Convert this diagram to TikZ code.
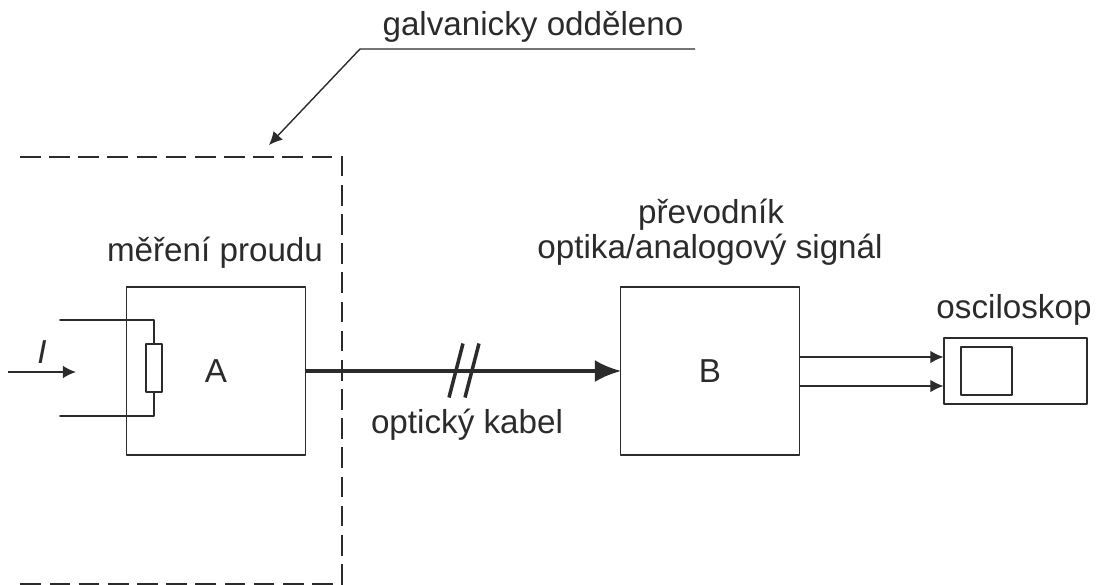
\documentclass[tikz,border=0pt]{standalone}
\usepackage{fontspec}
\setmainfont{Liberation Sans}
\usepackage{xcolor}
\usetikzlibrary{calc,arrows.meta}
\definecolor{ink}{HTML}{2B2B2B}
\tikzset{
  base/.style={draw=ink, line width=1pt, line cap=round, line join=round},
  thin/.style={draw=ink, line width=0.8pt},
  fence/.style={draw=ink, line width=1pt, dash pattern=on 11.7pt off 4.9pt},
  cable/.style={draw=ink, line width=2.1pt},
  tick/.style={draw=ink, line width=2pt},
  block/.style={base, minimum width=102pt, minimum height=95.5pt, inner sep=0pt},
  lab/.style={text=ink, font=\fontsize{18.9}{21}\selectfont, inner sep=0pt, anchor=base},
  sig/.style={-{Latex[length=7.5pt,width=7.2pt]}},
}
\begin{document}
\begin{tikzpicture}[x=0.02cm,y=-0.02cm]
  \useasboundingbox (0,0) rectangle (1099,585);

  % galvanic fence and leader
  \draw[fence] (20,157) -- (342,157) -- (342,584) -- (20,584);
  \node[lab] (iso) at (533,35) {galvanicky odděleno};
  \coordinate (bend) at (360,49);
  \coordinate (leadend) at (695,49);
  \coordinate (leadtip) at (269,145);
  \draw[thin,sig] (leadend) -- (bend) -- (leadtip);

  % blocks
  \node[block] (boxa) at (216,371) {};
  \node[block] (boxb) at (710,371) {};
  \node[lab] (a) at (216,382) {A};
  \node[lab] (b) at (710,382) {B};
  \node[lab] (mer) at (215,261) {měření proudu};
  \node[lab] (prev) at (711,223) {převodník};
  \node[lab] (prevb) at (710,258) {optika/analogový signál};
  \node[lab] (osc) at (1014,318) {osciloskop};
  \node[lab] (opt) at (467,433) {optický kabel};

  % shunt
  \node[base, minimum width=9.1pt, minimum height=27pt, inner sep=0pt] (shunt) at (154,368) {};
  \coordinate (intop) at (60,320);
  \coordinate (inbot) at (60,416);
  \draw[base] (intop) -| (shunt.north);
  \draw[base] (inbot) -| (shunt.south);

  % current
  \coordinate (curstart) at (8,372);
  \coordinate (curend) at (76,372);
  \draw[thin,sig] (curstart) -- (curend);
  \node[lab,font=\fontsize{18.9}{21}\selectfont\itshape] (cur) at (42,363) {I};

  % cable
  \draw[cable,-{Latex[length=15pt,width=12.5pt]},shorten >=-1pt] (boxa.east) -- (boxb.west);
  \coordinate (ticka) at (456,370.5);
  \coordinate (tickb) at (472,370.5);
  \draw[tick] ($(ticka)+(7,-27)$) -- ($(ticka)+(-7,27)$);
  \draw[tick] ($(tickb)+(7,-27)$) -- ($(tickb)+(-7,27)$);

  % oscilloscope
  \node[base, minimum width=81pt, minimum height=37.5pt, inner sep=0pt] (scope) at (1015.5,371) {};
  \node[base, minimum width=29pt, minimum height=27pt, inner sep=0pt] (screen) at (986.5,371) {};
  \draw[thin,sig] (boxb.east |- 0,357) -- (scope.west |- 0,357);
  \draw[thin,sig] (boxb.east |- 0,386) -- (scope.west |- 0,386);
\end{tikzpicture}
\end{document}
